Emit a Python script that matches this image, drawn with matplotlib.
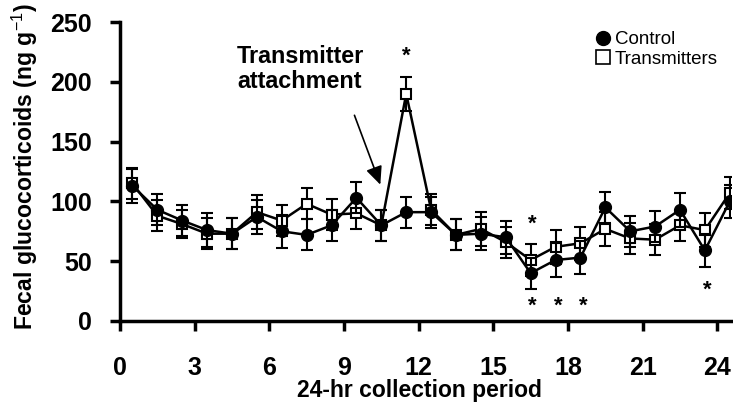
import matplotlib
matplotlib.use("Agg")
import matplotlib.pyplot as plt
from matplotlib.lines import Line2D

plt.rcParams['font.family'] = ['Liberation Sans', 'DejaVu Sans']
plt.rcParams['mathtext.fontset'] = 'custom'
plt.rcParams['mathtext.rm'] = 'Liberation Sans'
plt.rcParams['mathtext.bf'] = 'Liberation Sans:bold'

# Data
periods = [i + 0.5 for i in range(25)]
control = [113, 93, 84, 76, 73, 87, 75, 72, 80, 103, 80, 91, 91, 72, 73, 70, 40, 51, 53, 95, 75, 79, 93, 59, 100]
control_err = [14, 13, 13, 14, 13, 14, 14, 13, 13, 13, 13, 13, 13, 13, 14, 14, 13, 14, 14, 13, 13, 13, 14, 14, 14]
transmit = [115, 88, 81, 73, 73, 91, 84, 98, 89, 90, 80, 190, 93, 72, 77, 66, 51, 62, 65, 77, 69, 68, 80, 76, 107]
transmit_err = [13, 13, 12, 13, 13, 14, 13, 13, 13, 13, 13, 14, 13, 13, 14, 13, 13, 14, 14, 14, 13, 13, 13, 14, 13]
xticks = [0, 3, 6, 9, 12, 15, 18, 21, 24]
yticks = [0, 50, 100, 150, 200, 250]
star_x = [11.5, 16.55, 16.55, 17.6, 18.6, 23.6]
star_y = [221, 81, 12, 12, 12, 26]

fig = plt.figure(figsize=(7.33, 4.03), dpi=100)
ax = fig.add_axes([120/733, 82/403, 611/733, 299/403])

ax.errorbar(periods, transmit, yerr=transmit_err, color='black', lw=1.8,
            marker='s', ms=6.5, mfc='white', mec='black', mew=1.5,
            elinewidth=1.5, capsize=4, capthick=1.5, zorder=2)
ax.errorbar(periods, control, yerr=control_err, color='black', lw=1.8,
            marker='o', ms=8.5, mfc='black', mec='black',
            elinewidth=1.5, capsize=4, capthick=1.5, zorder=3)

for sx, sy in zip(star_x, star_y):
    ax.text(sx, sy, '*', ha='center', va='center', fontsize=16, fontweight='bold')

ax.set_xlim(0, 24.55)
ax.set_ylim(0, 250)
ax.set_xticks(xticks)
ax.set_yticks(yticks)
ax.tick_params(axis='both', direction='out', width=2.5, length=7, labelsize=18)
ax.tick_params(axis='y', pad=13)
ax.tick_params(axis='x', pad=18)
for lab in ax.get_xticklabels() + ax.get_yticklabels():
    lab.set_fontweight('bold')

for s in ['top', 'right']:
    ax.spines[s].set_visible(False)
for s in ['left', 'bottom']:
    ax.spines[s].set_linewidth(2.5)

ax.set_xlabel('24-hr collection period', fontsize=16.5, fontweight='bold')
ax.xaxis.label.set_va('baseline')
ax.xaxis.set_label_coords(0.49, -0.254)
ax.set_ylabel(r'Fecal glucocorticoids (ng g$^{-1}$)', fontsize=16.6, fontweight='bold')
ax.yaxis.set_label_coords(-0.131, 0.515)

ax.text(4.71, 231, 'Transmitter\nattachment', fontsize=16.8, fontweight='bold',
        ha='left', va='top', linespacing=1.15)
ax.annotate('', xy=(10.46, 114), xytext=(9.42, 172),
            arrowprops=dict(arrowstyle='-|>,head_length=0.55,head_width=0.25',
                            color='black', lw=1.2, mutation_scale=20,
                            shrinkA=0, shrinkB=0))

handles = [Line2D([], [], ls='none', marker='o', ms=10, mfc='black', mec='black'),
           Line2D([], [], ls='none', marker='s', ms=10, mfc='white', mec='black', mew=1.2)]
fig.legend(handles, ['Control', 'Transmitters'], loc='upper left',
           bbox_to_anchor=(586/733, 1 - 22/403), frameon=False, fontsize=13.5,
           handlelength=0.8, handletextpad=0.25, labelspacing=0.1, borderpad=0)

fig.savefig('out.png', dpi=100)
